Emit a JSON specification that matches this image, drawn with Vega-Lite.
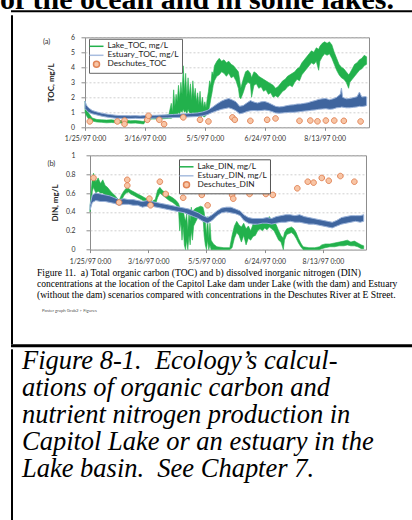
{
  "$schema": "https://vega.github.io/schema/vega-lite/v6.json",
  "padding": {"left": 0, "top": -15.7, "right": -2, "bottom": 0},
  "background": "white",
  "config": {
    "view": {"stroke": null},
    "font": "Lato",
    "axis": {"labelFont": "Lato", "titleFont": "Lato", "labelColor": "#333", "titleColor": "#222", "tickColor": "#8c8c8c", "domain": false, "gridColor": "#c4c4c4", "gridDash": [2, 2], "gridWidth": 0.8, "labelOverlap": false, "labelBound": false, "labelFlush": false}
  },
  "datasets": {
    "tocLake": [
      {"d": "1997-01-25", "lo": 1.05, "hi": 1.75}, {"d": "1997-01-26", "lo": 0.8, "hi": 1.45}, {"d": "1997-01-28", "lo": 0.55, "hi": 0.95}, {"d": "1997-01-31", "lo": 0.42, "hi": 0.62},
      {"d": "1997-02-04", "lo": 0.35, "hi": 0.52}, {"d": "1997-02-08", "lo": 0.33, "hi": 0.5}, {"d": "1997-02-12", "lo": 0.3, "hi": 0.48}, {"d": "1997-02-16", "lo": 0.32, "hi": 0.5},
      {"d": "1997-02-20", "lo": 0.3, "hi": 0.46}, {"d": "1997-02-24", "lo": 0.28, "hi": 0.45}, {"d": "1997-02-28", "lo": 0.3, "hi": 0.47}, {"d": "1997-03-04", "lo": 0.27, "hi": 0.44},
      {"d": "1997-03-08", "lo": 0.28, "hi": 0.45}, {"d": "1997-03-12", "lo": 0.25, "hi": 0.42}, {"d": "1997-03-15", "lo": 0.22, "hi": 0.38}, {"d": "1997-03-17", "lo": 0.5, "hi": 0.7},
      {"d": "1997-03-22", "lo": 0.55, "hi": 0.75}, {"d": "1997-03-27", "lo": 0.55, "hi": 0.76}, {"d": "1997-04-01", "lo": 0.57, "hi": 0.78}, {"d": "1997-04-05", "lo": 0.6, "hi": 0.85},
      {"d": "1997-04-07", "lo": 0.6, "hi": 1.6}, {"d": "1997-04-08", "lo": 0.65, "hi": 1.0}, {"d": "1997-04-09", "lo": 0.7, "hi": 2.5}, {"d": "1997-04-10", "lo": 0.8, "hi": 1.4},
      {"d": "1997-04-11", "lo": 0.9, "hi": 2.2}, {"d": "1997-04-12", "lo": 0.8, "hi": 1.7}, {"d": "1997-04-13", "lo": 1.0, "hi": 2.8}, {"d": "1997-04-14", "lo": 0.9, "hi": 1.9},
      {"d": "1997-04-15", "lo": 1.1, "hi": 3.0}, {"d": "1997-04-16", "lo": 1.0, "hi": 2.2}, {"d": "1997-04-17", "lo": 1.2, "hi": 4.1}, {"d": "1997-04-18", "lo": 1.0, "hi": 2.4},
      {"d": "1997-04-19", "lo": 1.1, "hi": 3.6}, {"d": "1997-04-20", "lo": 0.9, "hi": 2.0}, {"d": "1997-04-21", "lo": 1.2, "hi": 3.3}, {"d": "1997-04-22", "lo": 1.0, "hi": 2.1},
      {"d": "1997-04-23", "lo": 0.9, "hi": 2.9}, {"d": "1997-04-24", "lo": 0.8, "hi": 1.8}, {"d": "1997-04-25", "lo": 1.0, "hi": 3.1}, {"d": "1997-04-26", "lo": 0.9, "hi": 2.0},
      {"d": "1997-04-27", "lo": 0.8, "hi": 2.6}, {"d": "1997-04-28", "lo": 0.8, "hi": 1.7}, {"d": "1997-04-29", "lo": 0.9, "hi": 2.3}, {"d": "1997-04-30", "lo": 0.7, "hi": 1.5},
      {"d": "1997-05-01", "lo": 0.8, "hi": 2.4}, {"d": "1997-05-02", "lo": 0.7, "hi": 1.4}, {"d": "1997-05-03", "lo": 0.8, "hi": 2.0}, {"d": "1997-05-04", "lo": 0.7, "hi": 1.3},
      {"d": "1997-05-05", "lo": 0.7, "hi": 1.7}, {"d": "1997-05-06", "lo": 0.8, "hi": 1.3}, {"d": "1997-05-07", "lo": 0.9, "hi": 1.9}, {"d": "1997-05-08", "lo": 1.1, "hi": 2.4},
      {"d": "1997-05-09", "lo": 1.4, "hi": 3.1}, {"d": "1997-05-10", "lo": 1.9, "hi": 2.8}, {"d": "1997-05-11", "lo": 2.3, "hi": 3.7}, {"d": "1997-05-12", "lo": 2.8, "hi": 3.5},
      {"d": "1997-05-13", "lo": 3.1, "hi": 4.1}, {"d": "1997-05-15", "lo": 3.4, "hi": 4.4}, {"d": "1997-05-17", "lo": 3.5, "hi": 4.6}, {"d": "1997-05-19", "lo": 3.7, "hi": 4.4},
      {"d": "1997-05-21", "lo": 3.6, "hi": 4.5}, {"d": "1997-05-23", "lo": 3.4, "hi": 4.3}, {"d": "1997-05-25", "lo": 3.6, "hi": 4.4}, {"d": "1997-05-27", "lo": 3.3, "hi": 4.2},
      {"d": "1997-05-29", "lo": 3.4, "hi": 4.1}, {"d": "1997-05-31", "lo": 3.1, "hi": 3.9}, {"d": "1997-06-02", "lo": 2.6, "hi": 3.7}, {"d": "1997-06-03", "lo": 2.0, "hi": 3.2},
      {"d": "1997-06-04", "lo": 1.9, "hi": 2.6}, {"d": "1997-06-06", "lo": 2.3, "hi": 3.2}, {"d": "1997-06-08", "lo": 2.8, "hi": 3.7}, {"d": "1997-06-10", "lo": 3.0, "hi": 3.8},
      {"d": "1997-06-12", "lo": 2.9, "hi": 3.6}, {"d": "1997-06-13", "lo": 2.0, "hi": 3.3}, {"d": "1997-06-15", "lo": 2.8, "hi": 3.7}, {"d": "1997-06-17", "lo": 2.9, "hi": 3.6},
      {"d": "1997-06-19", "lo": 2.6, "hi": 3.4}, {"d": "1997-06-21", "lo": 2.7, "hi": 3.3}, {"d": "1997-06-23", "lo": 2.4, "hi": 3.2}, {"d": "1997-06-25", "lo": 2.5, "hi": 3.1},
      {"d": "1997-06-27", "lo": 2.2, "hi": 3.0}, {"d": "1997-06-29", "lo": 2.3, "hi": 2.9}, {"d": "1997-07-01", "lo": 2.0, "hi": 2.8}, {"d": "1997-07-03", "lo": 2.1, "hi": 2.6},
      {"d": "1997-07-05", "lo": 2.0, "hi": 2.7}, {"d": "1997-07-07", "lo": 2.2, "hi": 2.9}, {"d": "1997-07-09", "lo": 2.4, "hi": 3.1}, {"d": "1997-07-11", "lo": 2.5, "hi": 3.2},
      {"d": "1997-07-13", "lo": 2.7, "hi": 3.4}, {"d": "1997-07-15", "lo": 2.8, "hi": 3.5}, {"d": "1997-07-17", "lo": 2.7, "hi": 3.6}, {"d": "1997-07-19", "lo": 3.0, "hi": 3.7},
      {"d": "1997-07-21", "lo": 3.2, "hi": 3.9}, {"d": "1997-07-23", "lo": 3.1, "hi": 4.0}, {"d": "1997-07-25", "lo": 3.5, "hi": 4.3}, {"d": "1997-07-27", "lo": 3.7, "hi": 4.5},
      {"d": "1997-07-29", "lo": 3.9, "hi": 4.7}, {"d": "1997-07-31", "lo": 4.1, "hi": 4.9}, {"d": "1997-08-02", "lo": 4.3, "hi": 5.1}, {"d": "1997-08-04", "lo": 4.2, "hi": 5.0},
      {"d": "1997-08-06", "lo": 4.4, "hi": 5.3}, {"d": "1997-08-08", "lo": 3.8, "hi": 5.2}, {"d": "1997-08-09", "lo": 4.4, "hi": 5.4}, {"d": "1997-08-11", "lo": 4.7, "hi": 5.6},
      {"d": "1997-08-13", "lo": 4.9, "hi": 5.7}, {"d": "1997-08-15", "lo": 4.8, "hi": 5.6}, {"d": "1997-08-17", "lo": 4.9, "hi": 5.7}, {"d": "1997-08-19", "lo": 4.6, "hi": 5.5},
      {"d": "1997-08-21", "lo": 4.2, "hi": 5.0}, {"d": "1997-08-23", "lo": 3.8, "hi": 4.6}, {"d": "1997-08-25", "lo": 3.5, "hi": 4.2}, {"d": "1997-08-27", "lo": 3.3, "hi": 4.0},
      {"d": "1997-08-29", "lo": 3.2, "hi": 3.9}, {"d": "1997-08-31", "lo": 3.0, "hi": 3.7}, {"d": "1997-09-02", "lo": 2.6, "hi": 3.5}, {"d": "1997-09-03", "lo": 3.0, "hi": 3.6},
      {"d": "1997-09-05", "lo": 3.2, "hi": 3.9}, {"d": "1997-09-07", "lo": 3.4, "hi": 4.2}, {"d": "1997-09-09", "lo": 3.6, "hi": 4.3}, {"d": "1997-09-11", "lo": 3.8, "hi": 4.5},
      {"d": "1997-09-13", "lo": 3.9, "hi": 4.6}, {"d": "1997-09-15", "lo": 4.1, "hi": 4.8}, {"d": "1997-09-17", "lo": 4.2, "hi": 4.7}
    ],
    "tocEst": [
      {"d": "1997-01-25", "lo": 1.25, "hi": 1.75}, {"d": "1997-01-26", "lo": 1.15, "hi": 1.5}, {"d": "1997-01-28", "lo": 1.0, "hi": 1.3}, {"d": "1997-01-31", "lo": 0.9, "hi": 1.12},
      {"d": "1997-02-04", "lo": 0.82, "hi": 1.02}, {"d": "1997-02-08", "lo": 0.74, "hi": 0.94}, {"d": "1997-02-12", "lo": 0.68, "hi": 0.88}, {"d": "1997-02-16", "lo": 0.64, "hi": 0.84},
      {"d": "1997-02-20", "lo": 0.6, "hi": 0.8}, {"d": "1997-02-24", "lo": 0.6, "hi": 0.78}, {"d": "1997-02-28", "lo": 0.58, "hi": 0.78}, {"d": "1997-03-04", "lo": 0.58, "hi": 0.77},
      {"d": "1997-03-08", "lo": 0.6, "hi": 0.78}, {"d": "1997-03-12", "lo": 0.58, "hi": 0.76}, {"d": "1997-03-16", "lo": 0.6, "hi": 0.79}, {"d": "1997-03-20", "lo": 0.6, "hi": 0.8},
      {"d": "1997-03-25", "lo": 0.61, "hi": 0.8}, {"d": "1997-03-30", "lo": 0.62, "hi": 0.82}, {"d": "1997-04-04", "lo": 0.63, "hi": 0.83}, {"d": "1997-04-09", "lo": 0.65, "hi": 0.86},
      {"d": "1997-04-14", "lo": 0.66, "hi": 0.88}, {"d": "1997-04-19", "lo": 0.68, "hi": 0.9}, {"d": "1997-04-24", "lo": 0.7, "hi": 0.93}, {"d": "1997-04-29", "lo": 0.72, "hi": 0.96},
      {"d": "1997-05-03", "lo": 0.76, "hi": 1.02}, {"d": "1997-05-07", "lo": 0.84, "hi": 1.12}, {"d": "1997-05-11", "lo": 0.98, "hi": 1.32}, {"d": "1997-05-15", "lo": 1.1, "hi": 1.55},
      {"d": "1997-05-19", "lo": 1.2, "hi": 1.75}, {"d": "1997-05-22", "lo": 1.25, "hi": 1.85}, {"d": "1997-05-25", "lo": 1.3, "hi": 1.92}, {"d": "1997-05-28", "lo": 1.22, "hi": 1.82},
      {"d": "1997-05-31", "lo": 1.1, "hi": 1.7}, {"d": "1997-06-03", "lo": 0.9, "hi": 1.4}, {"d": "1997-06-06", "lo": 0.95, "hi": 1.45}, {"d": "1997-06-09", "lo": 1.05, "hi": 1.62},
      {"d": "1997-06-12", "lo": 1.1, "hi": 1.78}, {"d": "1997-06-15", "lo": 1.12, "hi": 1.68}, {"d": "1997-06-18", "lo": 1.1, "hi": 1.62}, {"d": "1997-06-21", "lo": 1.12, "hi": 1.7},
      {"d": "1997-06-24", "lo": 1.15, "hi": 1.72}, {"d": "1997-06-27", "lo": 1.12, "hi": 1.64}, {"d": "1997-06-30", "lo": 1.05, "hi": 1.52}, {"d": "1997-07-03", "lo": 0.96, "hi": 1.4},
      {"d": "1997-07-06", "lo": 0.94, "hi": 1.36}, {"d": "1997-07-09", "lo": 0.96, "hi": 1.38}, {"d": "1997-07-12", "lo": 0.98, "hi": 1.44}, {"d": "1997-07-15", "lo": 1.0, "hi": 1.48},
      {"d": "1997-07-18", "lo": 1.0, "hi": 1.5}, {"d": "1997-07-21", "lo": 1.02, "hi": 1.55}, {"d": "1997-07-24", "lo": 1.05, "hi": 1.56}, {"d": "1997-07-27", "lo": 1.08, "hi": 1.6},
      {"d": "1997-07-30", "lo": 1.1, "hi": 1.64}, {"d": "1997-08-02", "lo": 1.14, "hi": 1.72}, {"d": "1997-08-05", "lo": 1.16, "hi": 1.78}, {"d": "1997-08-08", "lo": 1.2, "hi": 1.86},
      {"d": "1997-08-11", "lo": 1.22, "hi": 1.9}, {"d": "1997-08-14", "lo": 1.24, "hi": 1.92}, {"d": "1997-08-17", "lo": 1.2, "hi": 1.84}, {"d": "1997-08-20", "lo": 1.22, "hi": 1.9},
      {"d": "1997-08-23", "lo": 1.3, "hi": 2.0}, {"d": "1997-08-26", "lo": 1.32, "hi": 2.2}, {"d": "1997-08-27", "lo": 1.35, "hi": 2.62}, {"d": "1997-08-28", "lo": 1.34, "hi": 2.0},
      {"d": "1997-08-31", "lo": 1.3, "hi": 1.9}, {"d": "1997-09-03", "lo": 1.3, "hi": 1.92}, {"d": "1997-09-06", "lo": 1.33, "hi": 1.98}, {"d": "1997-09-09", "lo": 1.36, "hi": 2.04},
      {"d": "1997-09-11", "lo": 1.4, "hi": 2.35}, {"d": "1997-09-13", "lo": 1.38, "hi": 2.02}, {"d": "1997-09-16", "lo": 1.42, "hi": 2.05}, {"d": "1997-09-17", "lo": 1.45, "hi": 2.02}
    ],
    "tocDes": [
      {"d": "1997-01-29", "v": 0.39, "s": "Deschutes_TOC"}, {"d": "1997-02-21", "v": 0.39, "s": "Deschutes_TOC"}, {"d": "1997-02-27", "v": 0.45, "s": "Deschutes_TOC"}, {"d": "1997-02-27", "v": 0.22, "s": "Deschutes_TOC"},
      {"d": "1997-03-18", "v": 0.5, "s": "Deschutes_TOC"}, {"d": "1997-03-19", "v": 0.77, "s": "Deschutes_TOC"}, {"d": "1997-03-28", "v": 0.5, "s": "Deschutes_TOC"}, {"d": "1997-04-01", "v": 0.21, "s": "Deschutes_TOC"},
      {"d": "1997-04-17", "v": 0.66, "s": "Deschutes_TOC"}, {"d": "1997-05-01", "v": 0.5, "s": "Deschutes_TOC"}, {"d": "1997-05-08", "v": 0.39, "s": "Deschutes_TOC"}, {"d": "1997-05-28", "v": 0.66, "s": "Deschutes_TOC"},
      {"d": "1997-05-30", "v": 0.5, "s": "Deschutes_TOC"}, {"d": "1997-06-12", "v": 0.43, "s": "Deschutes_TOC"}, {"d": "1997-06-26", "v": 0.5, "s": "Deschutes_TOC"}, {"d": "1997-07-03", "v": 0.59, "s": "Deschutes_TOC"},
      {"d": "1997-07-23", "v": 0.43, "s": "Deschutes_TOC"}, {"d": "1997-08-01", "v": 0.45, "s": "Deschutes_TOC"}, {"d": "1997-08-07", "v": 0.4, "s": "Deschutes_TOC"}, {"d": "1997-08-14", "v": 0.45, "s": "Deschutes_TOC"},
      {"d": "1997-08-21", "v": 0.45, "s": "Deschutes_TOC"}, {"d": "1997-08-29", "v": 0.43, "s": "Deschutes_TOC"}, {"d": "1997-09-12", "v": 0.39, "s": "Deschutes_TOC"}
    ],
    "dinLake": [
      {"d": "1997-01-25", "lo": 0.4, "hi": 0.44}, {"d": "1997-01-26", "lo": 0.5, "hi": 0.62}, {"d": "1997-01-27", "lo": 0.62, "hi": 0.76}, {"d": "1997-01-28", "lo": 0.66, "hi": 0.81},
      {"d": "1997-01-30", "lo": 0.6, "hi": 0.72}, {"d": "1997-02-01", "lo": 0.62, "hi": 0.76}, {"d": "1997-02-03", "lo": 0.6, "hi": 0.7}, {"d": "1997-02-05", "lo": 0.6, "hi": 0.74},
      {"d": "1997-02-07", "lo": 0.58, "hi": 0.68}, {"d": "1997-02-09", "lo": 0.56, "hi": 0.66}, {"d": "1997-02-11", "lo": 0.55, "hi": 0.63}, {"d": "1997-02-13", "lo": 0.53, "hi": 0.6},
      {"d": "1997-02-15", "lo": 0.51, "hi": 0.58}, {"d": "1997-02-17", "lo": 0.5, "hi": 0.55}, {"d": "1997-02-19", "lo": 0.48, "hi": 0.52}, {"d": "1997-02-21", "lo": 0.52, "hi": 0.58},
      {"d": "1997-02-23", "lo": 0.57, "hi": 0.62}, {"d": "1997-02-25", "lo": 0.6, "hi": 0.65}, {"d": "1997-02-27", "lo": 0.61, "hi": 0.65}, {"d": "1997-03-01", "lo": 0.59, "hi": 0.63},
      {"d": "1997-03-04", "lo": 0.57, "hi": 0.61}, {"d": "1997-03-07", "lo": 0.55, "hi": 0.59}, {"d": "1997-03-10", "lo": 0.53, "hi": 0.57}, {"d": "1997-03-13", "lo": 0.51, "hi": 0.55},
      {"d": "1997-03-16", "lo": 0.49, "hi": 0.53}, {"d": "1997-03-19", "lo": 0.47, "hi": 0.51}, {"d": "1997-03-22", "lo": 0.47, "hi": 0.53}, {"d": "1997-03-24", "lo": 0.55, "hi": 0.63},
      {"d": "1997-03-26", "lo": 0.6, "hi": 0.66}, {"d": "1997-03-28", "lo": 0.58, "hi": 0.63}, {"d": "1997-03-31", "lo": 0.55, "hi": 0.6}, {"d": "1997-04-03", "lo": 0.52, "hi": 0.57},
      {"d": "1997-04-06", "lo": 0.5, "hi": 0.55}, {"d": "1997-04-09", "lo": 0.47, "hi": 0.52}, {"d": "1997-04-11", "lo": 0.43, "hi": 0.49}, {"d": "1997-04-12", "lo": 0.2, "hi": 0.45},
      {"d": "1997-04-13", "lo": 0.3, "hi": 0.44}, {"d": "1997-04-14", "lo": 0.1, "hi": 0.4}, {"d": "1997-04-15", "lo": 0.25, "hi": 0.42}, {"d": "1997-04-16", "lo": 0.05, "hi": 0.35},
      {"d": "1997-04-17", "lo": 0.0, "hi": 0.3}, {"d": "1997-04-18", "lo": 0.1, "hi": 0.38}, {"d": "1997-04-19", "lo": 0.0, "hi": 0.2}, {"d": "1997-04-20", "lo": 0.15, "hi": 0.4},
      {"d": "1997-04-21", "lo": 0.05, "hi": 0.3}, {"d": "1997-04-22", "lo": 0.2, "hi": 0.45}, {"d": "1997-04-23", "lo": 0.1, "hi": 0.35}, {"d": "1997-04-24", "lo": 0.25, "hi": 0.42},
      {"d": "1997-04-26", "lo": 0.3, "hi": 0.44}, {"d": "1997-04-28", "lo": 0.35, "hi": 0.45}, {"d": "1997-04-30", "lo": 0.38, "hi": 0.46}, {"d": "1997-05-02", "lo": 0.36, "hi": 0.45},
      {"d": "1997-05-03", "lo": 0.15, "hi": 0.4}, {"d": "1997-05-04", "lo": 0.05, "hi": 0.3}, {"d": "1997-05-05", "lo": 0.0, "hi": 0.15}, {"d": "1997-05-06", "lo": 0.1, "hi": 0.35},
      {"d": "1997-05-07", "lo": 0.0, "hi": 0.12}, {"d": "1997-05-08", "lo": 0.05, "hi": 0.28}, {"d": "1997-05-09", "lo": 0.0, "hi": 0.1}, {"d": "1997-05-11", "lo": 0.0, "hi": 0.06},
      {"d": "1997-05-14", "lo": 0.0, "hi": 0.03}, {"d": "1997-05-20", "lo": 0.0, "hi": 0.02}, {"d": "1997-05-25", "lo": 0.0, "hi": 0.02}, {"d": "1997-05-27", "lo": 0.02, "hi": 0.15},
      {"d": "1997-05-29", "lo": 0.12, "hi": 0.25}, {"d": "1997-05-31", "lo": 0.18, "hi": 0.3}, {"d": "1997-06-02", "lo": 0.15, "hi": 0.26}, {"d": "1997-06-04", "lo": 0.08, "hi": 0.24},
      {"d": "1997-06-06", "lo": 0.15, "hi": 0.28}, {"d": "1997-06-08", "lo": 0.05, "hi": 0.22}, {"d": "1997-06-10", "lo": 0.12, "hi": 0.25}, {"d": "1997-06-12", "lo": 0.1, "hi": 0.2},
      {"d": "1997-06-14", "lo": 0.14, "hi": 0.27}, {"d": "1997-06-16", "lo": 0.15, "hi": 0.26}, {"d": "1997-06-18", "lo": 0.2, "hi": 0.3}, {"d": "1997-06-20", "lo": 0.22, "hi": 0.32},
      {"d": "1997-06-22", "lo": 0.2, "hi": 0.3}, {"d": "1997-06-24", "lo": 0.23, "hi": 0.33}, {"d": "1997-06-26", "lo": 0.21, "hi": 0.3}, {"d": "1997-06-28", "lo": 0.24, "hi": 0.35},
      {"d": "1997-06-30", "lo": 0.22, "hi": 0.31}, {"d": "1997-07-02", "lo": 0.2, "hi": 0.3}, {"d": "1997-07-04", "lo": 0.15, "hi": 0.26}, {"d": "1997-07-06", "lo": 0.1, "hi": 0.2},
      {"d": "1997-07-08", "lo": 0.08, "hi": 0.15}, {"d": "1997-07-10", "lo": 0.0, "hi": 0.12}, {"d": "1997-07-11", "lo": 0.1, "hi": 0.18}, {"d": "1997-07-13", "lo": 0.16, "hi": 0.22},
      {"d": "1997-07-15", "lo": 0.17, "hi": 0.23}, {"d": "1997-07-17", "lo": 0.18, "hi": 0.24}, {"d": "1997-07-19", "lo": 0.16, "hi": 0.22}, {"d": "1997-07-21", "lo": 0.12, "hi": 0.18},
      {"d": "1997-07-23", "lo": 0.07, "hi": 0.12}, {"d": "1997-07-25", "lo": 0.03, "hi": 0.07}, {"d": "1997-07-27", "lo": 0.0, "hi": 0.03}, {"d": "1997-08-01", "lo": 0.0, "hi": 0.02},
      {"d": "1997-08-06", "lo": 0.0, "hi": 0.02}, {"d": "1997-08-10", "lo": 0.0, "hi": 0.03}, {"d": "1997-08-12", "lo": 0.01, "hi": 0.05}, {"d": "1997-08-15", "lo": 0.02, "hi": 0.06},
      {"d": "1997-08-19", "lo": 0.03, "hi": 0.06}, {"d": "1997-08-23", "lo": 0.03, "hi": 0.07}, {"d": "1997-08-27", "lo": 0.04, "hi": 0.08}, {"d": "1997-08-31", "lo": 0.04, "hi": 0.09},
      {"d": "1997-09-03", "lo": 0.05, "hi": 0.1}, {"d": "1997-09-06", "lo": 0.04, "hi": 0.08}, {"d": "1997-09-09", "lo": 0.04, "hi": 0.09}, {"d": "1997-09-12", "lo": 0.03, "hi": 0.07},
      {"d": "1997-09-15", "lo": 0.01, "hi": 0.05}, {"d": "1997-09-17", "lo": 0.01, "hi": 0.04}
    ],
    "dinEst": [
      {"d": "1997-01-25", "lo": 0.42, "hi": 0.47}, {"d": "1997-01-27", "lo": 0.5, "hi": 0.58}, {"d": "1997-01-30", "lo": 0.52, "hi": 0.6}, {"d": "1997-02-03", "lo": 0.51, "hi": 0.59},
      {"d": "1997-02-07", "lo": 0.51, "hi": 0.58}, {"d": "1997-02-11", "lo": 0.5, "hi": 0.57}, {"d": "1997-02-15", "lo": 0.49, "hi": 0.55}, {"d": "1997-02-19", "lo": 0.47, "hi": 0.53},
      {"d": "1997-02-23", "lo": 0.48, "hi": 0.54}, {"d": "1997-02-27", "lo": 0.48, "hi": 0.53}, {"d": "1997-03-03", "lo": 0.47, "hi": 0.53}, {"d": "1997-03-07", "lo": 0.47, "hi": 0.52},
      {"d": "1997-03-11", "lo": 0.45, "hi": 0.51}, {"d": "1997-03-15", "lo": 0.46, "hi": 0.52}, {"d": "1997-03-19", "lo": 0.46, "hi": 0.51}, {"d": "1997-03-23", "lo": 0.45, "hi": 0.5},
      {"d": "1997-03-27", "lo": 0.44, "hi": 0.49}, {"d": "1997-03-31", "lo": 0.43, "hi": 0.48}, {"d": "1997-04-04", "lo": 0.42, "hi": 0.47}, {"d": "1997-04-08", "lo": 0.41, "hi": 0.46},
      {"d": "1997-04-12", "lo": 0.4, "hi": 0.45}, {"d": "1997-04-16", "lo": 0.39, "hi": 0.44}, {"d": "1997-04-20", "lo": 0.37, "hi": 0.43}, {"d": "1997-04-24", "lo": 0.35, "hi": 0.41},
      {"d": "1997-04-28", "lo": 0.33, "hi": 0.39}, {"d": "1997-05-02", "lo": 0.3, "hi": 0.36}, {"d": "1997-05-06", "lo": 0.28, "hi": 0.34}, {"d": "1997-05-10", "lo": 0.31, "hi": 0.37},
      {"d": "1997-05-14", "lo": 0.36, "hi": 0.41}, {"d": "1997-05-18", "lo": 0.39, "hi": 0.44}, {"d": "1997-05-22", "lo": 0.4, "hi": 0.45}, {"d": "1997-05-26", "lo": 0.39, "hi": 0.45},
      {"d": "1997-05-30", "lo": 0.38, "hi": 0.43}, {"d": "1997-06-03", "lo": 0.36, "hi": 0.41}, {"d": "1997-06-06", "lo": 0.31, "hi": 0.37}, {"d": "1997-06-10", "lo": 0.28, "hi": 0.34},
      {"d": "1997-06-14", "lo": 0.27, "hi": 0.33}, {"d": "1997-06-18", "lo": 0.27, "hi": 0.33}, {"d": "1997-06-22", "lo": 0.28, "hi": 0.33}, {"d": "1997-06-26", "lo": 0.28, "hi": 0.34},
      {"d": "1997-06-30", "lo": 0.27, "hi": 0.33}, {"d": "1997-07-04", "lo": 0.28, "hi": 0.35}, {"d": "1997-07-08", "lo": 0.29, "hi": 0.36}, {"d": "1997-07-12", "lo": 0.29, "hi": 0.37},
      {"d": "1997-07-16", "lo": 0.3, "hi": 0.37}, {"d": "1997-07-20", "lo": 0.29, "hi": 0.36}, {"d": "1997-07-24", "lo": 0.29, "hi": 0.37}, {"d": "1997-07-28", "lo": 0.28, "hi": 0.35},
      {"d": "1997-08-01", "lo": 0.27, "hi": 0.34}, {"d": "1997-08-05", "lo": 0.27, "hi": 0.33}, {"d": "1997-08-09", "lo": 0.26, "hi": 0.32}, {"d": "1997-08-13", "lo": 0.25, "hi": 0.31},
      {"d": "1997-08-17", "lo": 0.24, "hi": 0.3}, {"d": "1997-08-21", "lo": 0.23, "hi": 0.29}, {"d": "1997-08-25", "lo": 0.25, "hi": 0.31}, {"d": "1997-08-29", "lo": 0.27, "hi": 0.34},
      {"d": "1997-09-02", "lo": 0.28, "hi": 0.35}, {"d": "1997-09-06", "lo": 0.29, "hi": 0.36}, {"d": "1997-09-10", "lo": 0.3, "hi": 0.36}, {"d": "1997-09-14", "lo": 0.29, "hi": 0.36},
      {"d": "1997-09-17", "lo": 0.3, "hi": 0.37}
    ],
    "dinDes": [
      {"d": "1997-01-28", "v": 0.76, "s": "Deschutes_DIN"}, {"d": "1997-02-19", "v": 0.5, "s": "Deschutes_DIN"}, {"d": "1997-02-26", "v": 0.74, "s": "Deschutes_DIN"}, {"d": "1997-02-26", "v": 0.68, "s": "Deschutes_DIN"},
      {"d": "1997-03-17", "v": 0.54, "s": "Deschutes_DIN"}, {"d": "1997-03-18", "v": 0.47, "s": "Deschutes_DIN"}, {"d": "1997-03-26", "v": 0.72, "s": "Deschutes_DIN"}, {"d": "1997-03-31", "v": 0.59, "s": "Deschutes_DIN"},
      {"d": "1997-04-15", "v": 0.55, "s": "Deschutes_DIN"}, {"d": "1997-05-01", "v": 0.58, "s": "Deschutes_DIN"}, {"d": "1997-05-06", "v": 0.47, "s": "Deschutes_DIN"}, {"d": "1997-05-27", "v": 0.58, "s": "Deschutes_DIN"},
      {"d": "1997-05-28", "v": 0.54, "s": "Deschutes_DIN"}, {"d": "1997-06-11", "v": 0.59, "s": "Deschutes_DIN"}, {"d": "1997-06-25", "v": 0.59, "s": "Deschutes_DIN"}, {"d": "1997-07-01", "v": 0.58, "s": "Deschutes_DIN"},
      {"d": "1997-07-22", "v": 0.65, "s": "Deschutes_DIN"}, {"d": "1997-07-31", "v": 0.72, "s": "Deschutes_DIN"}, {"d": "1997-08-05", "v": 0.71, "s": "Deschutes_DIN"}, {"d": "1997-08-12", "v": 0.76, "s": "Deschutes_DIN"},
      {"d": "1997-08-18", "v": 0.73, "s": "Deschutes_DIN"}, {"d": "1997-08-28", "v": 0.78, "s": "Deschutes_DIN"}, {"d": "1997-09-09", "v": 0.72, "s": "Deschutes_DIN"}
    ]
  },
  "align": "each",
  "spacing": 0,
  "vconcat": [
    {
      "width": 403, "height": 2,
      "view": {"fill": "black", "stroke": null},
      "data": {"values": [{"t": "of the ocean and in some lakes."}]},
      "mark": {"type": "text", "align": "left", "baseline": "alphabetic", "font": "Liberation Serif", "fontSize": 30, "fontWeight": "bold", "color": "black", "dx": -11, "dy": -1.5},
      "encoding": {
        "x": {"datum": 0, "type": "quantitative", "scale": {"domain": [0, 1]}, "axis": null},
        "y": {"datum": 1, "type": "quantitative", "scale": {"domain": [0, 1]}, "axis": null},
        "text": {"field": "t"}
      }
    },
    {
      "spacing": 0,
      "hconcat": [
        {"width": 2, "height": 329, "view": {"fill": "black", "stroke": null}, "data": {"values": []}, "mark": "text"},
        {
          "spacing": 0,
          "resolve": {"scale": {"color": "independent", "stroke": "independent", "shape": "independent"}, "legend": {"color": "independent", "stroke": "independent", "shape": "independent"}},
          "vconcat": [
            {"width": 1, "height": 16.1, "data": {"values": []}, "mark": "text"},
            {
              "spacing": 0,
              "resolve": {"scale": {"color": "independent", "stroke": "independent", "shape": "independent"}, "legend": {"color": "independent", "stroke": "independent", "shape": "independent"}},
              "hconcat": [
                {"width": 28.7, "height": 1, "data": {"values": []}, "mark": "text"},
                {
                  "width": 284, "height": 90,
                  "view": {"stroke": "#8c8c8c", "strokeWidth": 1},
                  "title": {"text": "(a)", "anchor": "start", "frame": "bounds", "dx": -4.4, "offset": -18, "baseline": "alphabetic", "font": "Lato", "fontSize": 7.5, "fontWeight": "normal", "color": "#333"},
                  "layer": [
                    {
                      "data": {"name": "tocLake"},
                      "mark": {"type": "area", "fill": "#22b14c", "stroke": "#22b14c", "strokeWidth": 0.6},
                      "encoding": {
                        "x": {"field": "d", "type": "temporal",
                          "scale": {"type": "utc", "nice": false, "domain": [{"year": 1997, "month": 1, "date": 25, "utc": true}, {"year": 1997, "month": 9, "date": 19, "utc": true}]},
                          "axis": {"values": [{"year": 1997, "month": 1, "date": 25, "utc": true}, {"year": 1997, "month": 3, "date": 16, "utc": true}, {"year": 1997, "month": 5, "date": 5, "utc": true}, {"year": 1997, "month": 6, "date": 24, "utc": true}, {"year": 1997, "month": 8, "date": 13, "utc": true}],
                            "tickCount": 30, "format": "%-m/%-d/%y %-H:%M", "labelFontSize": 6.9, "labelFlush": false, "labelOverlap": false, "tickSize": 3, "labelPadding": 5.5, "grid": false, "title": null}},
                        "y": {"field": "lo", "type": "quantitative",
                          "scale": {"domain": [0, 6], "nice": false, "zero": false},
                          "axis": {"values": [0, 1, 2, 3, 4, 5, 6], "tickCount": 30, "format": "d", "title": "TOC, mg/L", "titleFontSize": 8, "titleFontWeight": "bold", "titlePadding": 15.2, "labelFontSize": 6.9, "labelPadding": 6.5, "labelOverlap": false, "tickSize": 4, "grid": true}},
                        "y2": {"field": "hi"}
                      }
                    },
                    {
                      "data": {"name": "tocEst"},
                      "mark": {"type": "area", "fill": "#3f659e", "stroke": "#9ab2d8", "strokeWidth": 1},
                      "encoding": {
                        "x": {"field": "d", "type": "temporal"},
                        "y": {"field": "lo", "type": "quantitative"},
                        "y2": {"field": "hi"}
                      }
                    },
                    {
                      "data": {"name": "tocDes"},
                      "mark": {"type": "point", "filled": true, "size": 56, "strokeWidth": 1, "opacity": 1},
                      "encoding": {
                        "x": {"field": "d", "type": "temporal"},
                        "y": {"field": "v", "type": "quantitative"},
                        "color": {"field": "s", "type": "nominal",
                          "scale": {"domain": ["Lake_TOC, mg/L", "Estuary_TOC, mg/L", "Deschutes_TOC"], "range": ["#22b14c", "#a8bddf", "#f8c5a5"]},
                          "legend": {"orient": "none", "legendX": 4, "legendY": 1.5, "title": null, "fillColor": "white", "strokeColor": "#666", "padding": 2.5, "rowPadding": -2, "symbolSize": 64, "symbolStrokeWidth": 1.5, "labelOffset": 6, "labelFont": "Lato", "labelFontSize": 8.3, "labelColor": "#222"}},
                        "stroke": {"field": "s", "type": "nominal",
                          "scale": {"domain": ["Lake_TOC, mg/L", "Estuary_TOC, mg/L", "Deschutes_TOC"], "range": ["#22b14c", "#a8bddf", "#e08456"]},
                          "legend": {"orient": "none", "legendX": 4, "legendY": 1.5, "title": null, "fillColor": "white", "strokeColor": "#666", "padding": 2.5, "rowPadding": -2, "symbolSize": 64, "symbolStrokeWidth": 1.5, "labelOffset": 6, "labelFont": "Lato", "labelFontSize": 8.3, "labelColor": "#222"}},
                        "shape": {"field": "s", "type": "nominal",
                          "scale": {"domain": ["Lake_TOC, mg/L", "Estuary_TOC, mg/L", "Deschutes_TOC"], "range": ["M-1.75,0L1.75,0", "M-1.75,0L1.75,0", "M0,-0.75A0.75,0.75,0,1,1,0,0.75A0.75,0.75,0,1,1,0,-0.75Z"]},
                          "legend": {"orient": "none", "legendX": 4, "legendY": 1.5, "title": null, "fillColor": "white", "strokeColor": "#666", "padding": 2.5, "rowPadding": -2, "symbolSize": 64, "symbolStrokeWidth": 1.5, "labelOffset": 6, "labelFont": "Lato", "labelFontSize": 8.3, "labelColor": "#222"}}
                      }
                    }
                  ]
                }
              ]
            },
            {"width": 1, "height": 7.65, "data": {"values": []}, "mark": "text"},
            {
              "spacing": 0,
              "resolve": {"scale": {"color": "independent", "stroke": "independent", "shape": "independent"}, "legend": {"color": "independent", "stroke": "independent", "shape": "independent"}},
              "hconcat": [
                {"width": 32.3, "height": 1, "data": {"values": []}, "mark": "text"},
                {
                  "width": 276, "height": 94.3,
                  "view": {"stroke": "#8c8c8c", "strokeWidth": 1},
                  "title": {"text": "(b)", "anchor": "start", "frame": "bounds", "dx": -4, "offset": -22.2, "baseline": "alphabetic", "font": "Lato", "fontSize": 7.5, "fontWeight": "normal", "color": "#333"},
                  "layer": [
                    {
                      "data": {"name": "dinLake"},
                      "mark": {"type": "area", "fill": "#22b14c", "stroke": "#22b14c", "strokeWidth": 0.6},
                      "encoding": {
                        "x": {"field": "d", "type": "temporal",
                          "scale": {"type": "utc", "nice": false, "domain": [{"year": 1997, "month": 1, "date": 25, "utc": true}, {"year": 1997, "month": 9, "date": 19, "utc": true}]},
                          "axis": {"values": [{"year": 1997, "month": 1, "date": 25, "utc": true}, {"year": 1997, "month": 3, "date": 16, "utc": true}, {"year": 1997, "month": 5, "date": 5, "utc": true}, {"year": 1997, "month": 6, "date": 24, "utc": true}, {"year": 1997, "month": 8, "date": 13, "utc": true}],
                            "tickCount": 30, "format": "%-m/%-d/%y %-H:%M", "labelFontSize": 6.9, "labelFlush": false, "labelOverlap": false, "tickSize": 3, "labelPadding": 5.5, "grid": false, "title": null}},
                        "y": {"field": "lo", "type": "quantitative",
                          "scale": {"domain": [0, 1], "nice": false, "zero": false},
                          "axis": {"values": [0, 0.2, 0.4, 0.6, 0.8, 1], "tickCount": 30, "format": "~g", "title": "DIN, mg/L", "titleFontSize": 8, "titleFontWeight": "bold", "titlePadding": 6, "labelFontSize": 6.9, "labelPadding": 11, "labelOverlap": false, "tickSize": 4, "grid": true}},
                        "y2": {"field": "hi"}
                      }
                    },
                    {
                      "data": {"name": "dinEst"},
                      "mark": {"type": "area", "fill": "#3f659e", "stroke": "#9ab2d8", "strokeWidth": 1},
                      "encoding": {
                        "x": {"field": "d", "type": "temporal"},
                        "y": {"field": "lo", "type": "quantitative"},
                        "y2": {"field": "hi"}
                      }
                    },
                    {
                      "data": {"name": "dinDes"},
                      "mark": {"type": "point", "filled": true, "size": 56, "strokeWidth": 1, "opacity": 1},
                      "encoding": {
                        "x": {"field": "d", "type": "temporal"},
                        "y": {"field": "v", "type": "quantitative"},
                        "color": {"field": "s", "type": "nominal",
                          "scale": {"domain": ["Lake_DIN, mg/L", "Estuary_DIN, mg/L", "Deschutes_DIN"], "range": ["#22b14c", "#a8bddf", "#f8c5a5"]},
                          "legend": {"orient": "none", "legendX": 89, "legendY": 4, "title": null, "fillColor": "white", "strokeColor": "#555", "padding": 2.5, "rowPadding": -2, "symbolSize": 64, "symbolStrokeWidth": 1.5, "labelOffset": 6, "labelFont": "Lato", "labelFontSize": 8.3, "labelColor": "#222"}},
                        "stroke": {"field": "s", "type": "nominal",
                          "scale": {"domain": ["Lake_DIN, mg/L", "Estuary_DIN, mg/L", "Deschutes_DIN"], "range": ["#22b14c", "#a8bddf", "#e08456"]},
                          "legend": {"orient": "none", "legendX": 89, "legendY": 4, "title": null, "fillColor": "white", "strokeColor": "#555", "padding": 2.5, "rowPadding": -2, "symbolSize": 64, "symbolStrokeWidth": 1.5, "labelOffset": 6, "labelFont": "Lato", "labelFontSize": 8.3, "labelColor": "#222"}},
                        "shape": {"field": "s", "type": "nominal",
                          "scale": {"domain": ["Lake_DIN, mg/L", "Estuary_DIN, mg/L", "Deschutes_DIN"], "range": ["M-1.75,0L1.75,0", "M-1.75,0L1.75,0", "M0,-0.75A0.75,0.75,0,1,1,0,0.75A0.75,0.75,0,1,1,0,-0.75Z"]},
                          "legend": {"orient": "none", "legendX": 89, "legendY": 4, "title": null, "fillColor": "white", "strokeColor": "#555", "padding": 2.5, "rowPadding": -2, "symbolSize": 64, "symbolStrokeWidth": 1.5, "labelOffset": 6, "labelFont": "Lato", "labelFontSize": 8.3, "labelColor": "#222"}}
                      }
                    }
                  ]
                }
              ]
            },
            {"width": 1, "height": 1.8, "data": {"values": []}, "mark": "text"},
            {
              "spacing": 0,
              "hconcat": [
                {"width": 22, "height": 1, "data": {"values": []}, "mark": "text"},
                {
                  "width": 355, "height": 46,
                  "layer": [
                    {
                      "data": {"values": [
                        {"i": 1, "t": "Figure 11.\u00a0 a) Total organic carbon (TOC) and b) dissolved inorganic nitrogen (DIN)"},
                        {"i": 2, "t": "concentrations at the location of the Capitol Lake dam under Lake (with the dam) and Estuary"},
                        {"i": 3, "t": "(without the dam) scenarios compared with concentrations in the Deschutes River at E Street."}
                      ]},
                      "mark": {"type": "text", "align": "left", "baseline": "alphabetic", "font": "Liberation Serif", "fontSize": 9.6, "color": "black", "dx": 2},
                      "encoding": {
                        "x": {"datum": 0, "type": "quantitative", "scale": {"domain": [0, 1]}, "axis": null},
                        "y": {"field": "i", "type": "quantitative", "scale": {"domain": [0.3028, 4.523], "reverse": true, "nice": false, "zero": false}, "axis": null},
                        "text": {"field": "t"}
                      }
                    },
                    {
                      "data": {"values": [{"i": 4, "t": "Poster graph Grab2 > Figures"}]},
                      "mark": {"type": "text", "align": "left", "baseline": "alphabetic", "font": "Lato", "fontSize": 4.3, "color": "#555", "dx": 7, "dy": 3},
                      "encoding": {
                        "x": {"datum": 0, "type": "quantitative"},
                        "y": {"field": "i", "type": "quantitative"},
                        "text": {"field": "t"}
                      }
                    }
                  ]
                }
              ]
            }
          ]
        }
      ]
    },
    {"width": 403, "height": 3, "view": {"fill": "black", "stroke": null}, "data": {"values": []}, "mark": "text"},
    {
      "spacing": 0,
      "hconcat": [
        {"width": 2, "height": 176.5, "view": {"fill": "black", "stroke": null}, "data": {"values": []}, "mark": "text"},
        {
          "width": 401, "height": 176.5,
          "data": {"values": [
            {"i": 1, "t": "Figure 8-1.\u00a0 Ecology’s calcul-"},
            {"i": 2, "t": "ations of organic carbon and"},
            {"i": 3, "t": "nutrient nitrogen production in"},
            {"i": 4, "t": "Capitol Lake or an estuary in the"},
            {"i": 5, "t": "Lake basin.\u00a0 See Chapter 7."}
          ]},
          "mark": {"type": "text", "align": "left", "baseline": "alphabetic", "font": "Liberation Serif", "fontStyle": "italic", "fontSize": 26.5, "color": "black", "dx": 9},
          "encoding": {
            "x": {"datum": 0, "type": "quantitative", "scale": {"domain": [0, 1]}, "axis": null},
            "y": {"field": "i", "type": "quantitative", "scale": {"domain": [0.2804, 6.793], "reverse": true, "nice": false, "zero": false}, "axis": null},
            "text": {"field": "t"}
          }
        }
      ]
    }
  ]
}
